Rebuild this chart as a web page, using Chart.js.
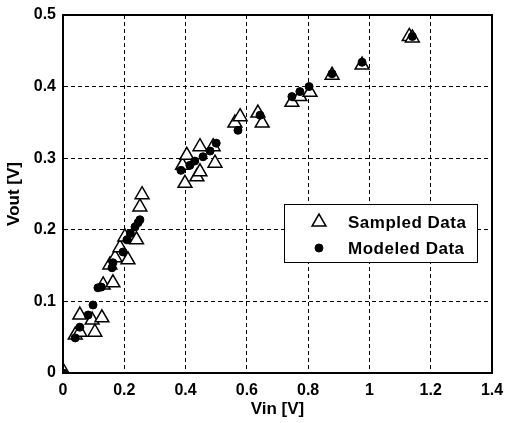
<!DOCTYPE html>
<html>
<head>
<meta charset="utf-8">
<script src="https://cdn.jsdelivr.net/npm/chart.js@4/dist/chart.umd.min.js"></script>
<style>
  html, body { margin: 0; padding: 0; background: #fff; }
  #wrap { width: 507px; height: 423px; }
</style>
</head>
<body>
<div id="wrap"><canvas id="chart" width="507" height="423"></canvas></div>
<script>
// Vin / Vout pairs
const sampledVin = [0, 0.04, 0.055, 0.055, 0.095, 0.104, 0.127, 0.131, 0.163,
  0.153, 0.17, 0.186, 0.202, 0.212, 0.24, 0.251, 0.258,
  0.39, 0.398, 0.404, 0.437, 0.447, 0.447, 0.49, 0.496,
  0.561, 0.578, 0.636, 0.65, 0.747, 0.773, 0.806, 0.878, 0.976, 1.13, 1.14];
const sampledVout = [0.003, 0.053, 0.057, 0.081, 0.074, 0.057, 0.077, 0.123, 0.126,
  0.151, 0.161, 0.175, 0.19, 0.158, 0.186, 0.232, 0.249,
  0.29, 0.265, 0.304, 0.274, 0.281, 0.316, 0.316, 0.293,
  0.349, 0.358, 0.363, 0.349, 0.378, 0.386, 0.392, 0.416, 0.43, 0.47, 0.468];

const modeledVin = [0, 0.04, 0.055, 0.082, 0.098, 0.114, 0.125, 0.16, 0.163,
  0.196, 0.209, 0.22, 0.235, 0.245, 0.251, 0.385, 0.414, 0.43, 0.457, 0.48, 0.5,
  0.571, 0.643, 0.747, 0.773, 0.803, 0.878, 0.976, 1.14];
const modeledVout = [0, 0.049, 0.064, 0.081, 0.095, 0.119, 0.12, 0.147, 0.154,
  0.169, 0.186, 0.195, 0.204, 0.21, 0.214, 0.283, 0.29, 0.296, 0.302, 0.31, 0.321,
  0.339, 0.36, 0.386, 0.393, 0.4, 0.418, 0.434, 0.47];

const xTicks = [0, 0.2, 0.4, 0.6, 0.8, 1, 1.2, 1.4];
const yTicks = [0, 0.1, 0.2, 0.3, 0.4, 0.5];

const fontFamily = "'Liberation Sans', Arial, sans-serif";
const tickFont = { family: fontFamily, size: 16, weight: "bold" };
const titleFont = { family: fontFamily, size: 17, weight: "bold" };

function toPoints(xs, ys) {
  return xs.map((x, i) => ({ x: x, y: ys[i] }));
}

// box around the axes plus the legend inside the plot
const framePlugin = {
  id: "frame",
  afterDraw(chart) {
    const ctx = chart.ctx;
    const a = chart.chartArea;
    ctx.save();
    ctx.strokeStyle = "#000";
    ctx.lineWidth = 2;
    ctx.strokeRect(a.left, a.top, a.right - a.left, a.bottom - a.top);

    // legend
    const lx = 284, ly = 204, lw = 193, lh = 58;
    ctx.fillStyle = "#fff";
    ctx.fillRect(lx, ly, lw, lh);
    ctx.lineWidth = 1;
    ctx.strokeRect(lx + 0.5, ly + 0.5, lw, lh);

    const ds = chart.data.datasets;
    ctx.font = "bold 17px " + fontFamily;
    ctx.letterSpacing = "0.5px";
    ctx.textBaseline = "middle";
    ds.forEach((d, i) => {
      const cx = 319;
      const cy = ly + 18 + i * 26;
      ctx.fillStyle = d.pointBackgroundColor;
      ctx.strokeStyle = "#000";
      ctx.lineWidth = d.pointBorderWidth;
      ctx.beginPath();
      if (d.pointStyle === "triangle") {
        const r = d.pointRadius;
        const h = r * 1.5, e = r * Math.sqrt(3);
        ctx.moveTo(cx - e / 2, cy + h / 3);
        ctx.lineTo(cx + e / 2, cy + h / 3);
        ctx.lineTo(cx, cy - 2 * h / 3);
        ctx.closePath();
      } else {
        ctx.arc(cx, cy, d.pointRadius, 0, Math.PI * 2);
      }
      ctx.fill();
      ctx.stroke();
      ctx.fillStyle = "#000";
      ctx.fillText(d.label, 348, cy + 1);
    });
    ctx.restore();
  },
};

new Chart(document.getElementById("chart"), {
  type: "scatter",
  data: {
    datasets: [
      {
        label: "Sampled Data",
        data: toPoints(sampledVin, sampledVout),
        pointStyle: "triangle",
        pointRadius: 8,
        pointBackgroundColor: "#fff",
        pointBorderColor: "#000",
        pointBorderWidth: 1.5,
        order: 2,
      },
      {
        label: "Modeled Data",
        data: toPoints(modeledVin, modeledVout),
        pointStyle: "circle",
        pointRadius: 4,
        pointBackgroundColor: "#000",
        pointBorderColor: "#000",
        pointBorderWidth: 1,
        order: 1,
      },
    ],
  },
  options: {
    responsive: false,
    animation: false,
    layout: { padding: { left: 0, right: 15, top: 15, bottom: 0 } },
    plugins: {
      legend: { display: false },
      tooltip: { enabled: false },
    },
    scales: {
      x: {
        type: "linear",
        min: 0,
        max: 1.4,
        afterBuildTicks: (s) => { s.ticks = xTicks.map((v) => ({ value: v })); },
        afterFit: (s) => {
          s.height = 50;
          s.paddingLeft = 0;
          s.paddingRight = 0;
        },
        ticks: {
          color: "#000",
          font: tickFont,
          padding: 8,
          maxRotation: 0,
          callback: (v) => String(v),
        },
        grid: { color: "#000", lineWidth: 1, drawTicks: false },
        border: { color: "#000", width: 2, dash: [4, 3] },
        title: {
          display: true,
          text: "Vin [V]",
          color: "#000",
          font: titleFont,
          padding: { top: 0, bottom: 3 },
        },
      },
      y: {
        type: "linear",
        min: 0,
        max: 0.5,
        afterBuildTicks: (s) => { s.ticks = yTicks.map((v) => ({ value: v })); },
        afterFit: (s) => {
          s.width = 63;
          s.paddingTop = 0;
          s.paddingBottom = 0;
        },
        ticks: {
          color: "#000",
          font: tickFont,
          padding: 7,
          callback: (v) => String(v),
        },
        grid: { color: "#000", lineWidth: 1, drawTicks: false },
        border: { color: "#000", width: 2, dash: [4, 3] },
        title: {
          display: true,
          text: "Vout [V]",
          color: "#000",
          font: titleFont,
          padding: { top: 4, bottom: 0 },
        },
      },
    },
  },
  plugins: [framePlugin],
});
</script>
</body>
</html>
